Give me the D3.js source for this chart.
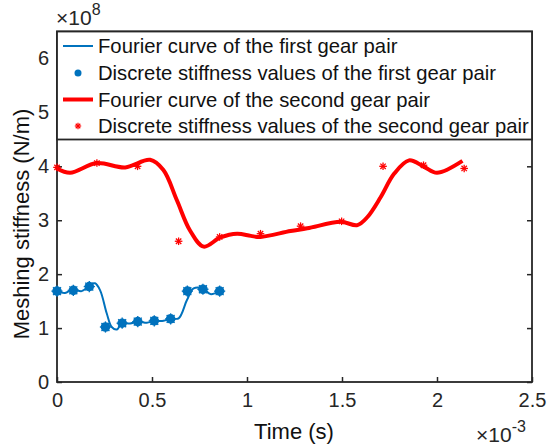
<!DOCTYPE html>
<html>
<head>
<meta charset="utf-8">
<script src="https://cdn.jsdelivr.net/npm/d3@7"></script>
<style>
  body { margin: 0; background: #fff; }
  svg { display: block; font-family: "Liberation Sans", Arial, sans-serif; }
</style>
</head>
<body>
<div id="chart"></div>
<script>
// time in ms (x 1e-3 s), stiffness in 1e8 N/m
const blueCurveT = [0, 0.042, 0.083, 0.13, 0.174, 0.2, 0.227, 0.262, 0.288, 0.315, 0.341, 0.385, 0.429, 0.473, 0.513, 0.561, 0.6, 0.64, 0.684, 0.719, 0.768, 0.807, 0.856];
const blueCurveV = [1.685, 1.65, 1.72, 1.685, 1.80, 1.83, 1.70, 1.27, 1.02, 0.975, 1.085, 1.085, 1.12, 1.10, 1.13, 1.135, 1.18, 1.18, 1.52, 1.735, 1.735, 1.63, 1.685];

const blueDotT = [0, 0.086, 0.170, 0.255, 0.343, 0.425, 0.512, 0.598, 0.686, 0.768, 0.856];
const blueDotV = [1.685, 1.70, 1.77, 1.02, 1.09, 1.12, 1.135, 1.17, 1.685, 1.72, 1.685];

const redCurveT = [0, 0.069, 0.209, 0.359, 0.49, 0.56, 0.631, 0.70, 0.772, 0.86, 0.948, 1.02, 1.071, 1.229, 1.317, 1.493, 1.581, 1.634, 1.704, 1.774, 1.853, 1.932, 2.0, 2.134];
const redCurveV = [3.96, 3.88, 4.06, 3.98, 4.12, 3.93, 3.37, 2.81, 2.51, 2.68, 2.75, 2.71, 2.69, 2.80, 2.85, 2.97, 2.91, 3.06, 3.43, 3.86, 4.11, 3.99, 3.88, 4.10];

const redStarT = [0, 0.21, 0.424, 0.64, 0.856, 1.071, 1.282, 1.498, 1.716, 1.929, 2.143];
const redStarV = [3.98, 4.06, 4.0, 2.61, 2.69, 2.75, 2.89, 2.98, 4.0, 4.02, 3.96];

const xTicks = [0, 0.5, 1, 1.5, 2, 2.5];
const yTicks = [0, 1, 2, 3, 4, 5, 6];

const legendLabels = [
  "Fourier curve of the first gear pair",
  "Discrete stiffness values of the first gear pair",
  "Fourier curve of the second gear pair",
  "Discrete stiffness values of the second gear pair"
];

const W = 553, H = 446;
const blue = "#0072BD", red = "#FF0000", axisColor = "#262626";
const font = "Liberation Sans, Arial, sans-serif";

const svg = d3.select("#chart").append("svg")
  .attr("width", W).attr("height", H);

const x = d3.scaleLinear().domain([0, 2.5]).range([57, 532]);
const y = d3.scaleLinear().domain([0, 6.5]).range([382, 31.5]);

// axes (ticks inside, box on all sides)
const fs = 20;
svg.append("g")
  .attr("transform", `translate(0,${y(0)})`)
  .call(d3.axisBottom(x).tickValues(xTicks).tickSize(-5).tickPadding(11).tickFormat(d3.format("")))
  .call(g => g.select(".domain").remove())
  .call(g => g.selectAll("line").attr("stroke", axisColor).attr("stroke-width", 1.5))
  .call(g => g.selectAll("text").attr("fill", axisColor).style("font-size", fs + "px").style("font-family", font));

svg.append("g")
  .attr("transform", `translate(${x(0)},0)`)
  .call(d3.axisLeft(y).tickValues(yTicks).tickSize(-5).tickPadding(8).tickFormat(d3.format("")))
  .call(g => g.select(".domain").remove())
  .call(g => g.selectAll("line").attr("stroke", axisColor).attr("stroke-width", 1.5))
  .call(g => g.selectAll("text").attr("fill", axisColor).style("font-size", fs + "px").style("font-family", font));

svg.append("g")
  .attr("transform", `translate(${x(2.5)},0)`)
  .call(d3.axisRight(y).tickValues(yTicks).tickSize(-5).tickFormat(""))
  .call(g => g.select(".domain").remove())
  .call(g => g.selectAll("line").attr("stroke", axisColor).attr("stroke-width", 1.5));

svg.append("rect")
  .attr("x", x(0)).attr("y", y(6.5))
  .attr("width", x(2.5) - x(0)).attr("height", y(0) - y(6.5))
  .attr("fill", "none").attr("stroke", axisColor).attr("stroke-width", 1.8);

// curves
const line = d3.line().x(d => x(d[0])).y(d => y(d[1])).curve(d3.curveCatmullRom.alpha(0.5));

svg.append("path")
  .datum(redCurveT.map((t, i) => [t, redCurveV[i]]))
  .attr("d", line).attr("fill", "none").attr("stroke", red).attr("stroke-width", 4)
  .attr("stroke-linejoin", "round");

svg.append("path")
  .datum(blueCurveT.map((t, i) => [t, blueCurveV[i]]))
  .attr("d", line).attr("fill", "none").attr("stroke", blue).attr("stroke-width", 2)
  .attr("stroke-linejoin", "round");

function asterisk(g, cx, cy, r, color, sw) {
  const a = g.append("g").attr("transform", `translate(${cx},${cy})`);
  [0, 45, 90, 135].forEach(ang => {
    const rad = ang * Math.PI / 180;
    a.append("line")
      .attr("x1", -r * Math.cos(rad)).attr("y1", -r * Math.sin(rad))
      .attr("x2", r * Math.cos(rad)).attr("y2", r * Math.sin(rad))
      .attr("stroke", color).attr("stroke-width", sw);
  });
}

const dots = svg.append("g");
blueDotT.forEach((t, i) => {
  dots.append("circle").attr("cx", x(t)).attr("cy", y(blueDotV[i])).attr("r", 4.8).attr("fill", blue);
  asterisk(dots, x(t), y(blueDotV[i]), 5.6, blue, 1.3);
});

const stars = svg.append("g");
redStarT.forEach((t, i) => asterisk(stars, x(t), y(redStarV[i]), 3.8, red, 1.3));

// legend
const lg = svg.append("g");
lg.append("rect")
  .attr("x", x(0)).attr("y", y(6.5))
  .attr("width", x(2.5) - x(0)).attr("height", 108)
  .attr("fill", "#fff").attr("stroke", axisColor).attr("stroke-width", 1.8);

const rowY = [46, 73, 99.5, 126];
const texts = legendLabels.map((s, i) => lg.append("text")
  .attr("x", 98).attr("y", rowY[i]).attr("dy", "0.35em")
  .attr("fill", "#111").style("font-size", "100px").text(s));
// fit the longest entry to the box width
const longest = d3.max(texts, t => t.node().getComputedTextLength());
const lfs = 100 * 431 / longest;
texts.forEach(t => t.style("font-size", lfs + "px"));

lg.append("line").attr("x1", 63).attr("x2", 93).attr("y1", rowY[0]).attr("y2", rowY[0])
  .attr("stroke", blue).attr("stroke-width", 2);
lg.append("circle").attr("cx", 78).attr("cy", rowY[1]).attr("r", 3.5).attr("fill", blue);
lg.append("line").attr("x1", 63).attr("x2", 93).attr("y1", rowY[2]).attr("y2", rowY[2])
  .attr("stroke", red).attr("stroke-width", 4);
asterisk(lg, 78, rowY[3], 3.2, red, 1.2);

// axis labels
svg.append("text")
  .attr("x", 294).attr("y", 431).attr("dy", "0.35em")
  .attr("text-anchor", "middle").attr("fill", "#111")
  .style("font-size", "22px").text("Time (s)");

svg.append("text")
  .attr("transform", "translate(21,224) rotate(-90)")
  .attr("text-anchor", "middle").attr("dy", "0.35em").attr("fill", "#111")
  .style("font-size", "22px").text("Meshing stiffness (N/m)");

// exponent labels
const e1 = svg.append("text").attr("x", 56).attr("y", 25).attr("fill", axisColor).style("font-size", "21px");
e1.append("tspan").text("\u00d710");
e1.append("tspan").attr("dy", -10).style("font-size", "16px").text("8");

const e2 = svg.append("text").attr("x", 476).attr("y", 442).attr("fill", axisColor).style("font-size", "21px");
e2.append("tspan").text("\u00d710");
e2.append("tspan").attr("dy", -10).style("font-size", "16px").text("-3");
</script>
</body>
</html>
